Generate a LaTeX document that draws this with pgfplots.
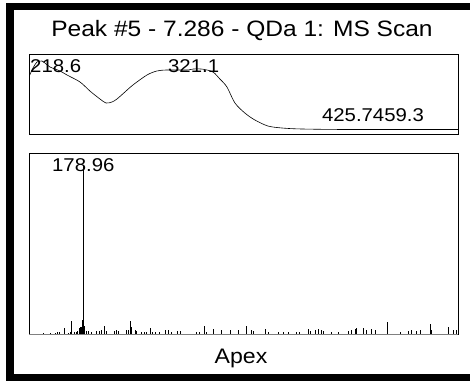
\documentclass[border=0pt]{standalone}
\usepackage{pgfplots}
\pgfplotsset{compat=1.18}
\usepackage{fontspec}
\setmainfont{Liberation Sans}[FakeStretch=1.1]
\begin{document}
\begin{tikzpicture}
\path[use as bounding box] (0pt,0pt) rectangle (470pt,382pt);
\fill[white] (0pt,0pt) rectangle (470pt,382pt);
\draw[line width=7.5pt] (10pt,4.5pt) rectangle (480pt,375.5pt);
% title
\node[anchor=base, font=\fontsize{22.3}{26}\selectfont, inner sep=0pt] at (242pt,345pt) {Peak \#5 - 7.286 - QDa 1: MS Scan};
% UV spectrum panel
\begin{axis}[at={(29.3pt,248pt)}, anchor=south west, scale only axis,
  width=428.7pt, height=80pt, xmin=210, xmax=500, ymin=0, ymax=1,
  xtick=\empty, ytick=\empty, clip=false,
  axis line style={black, line width=0.8pt}]
\addplot[black, line width=0.6pt, smooth, tension=0.5] coordinates {
(210.0,0.725) (212.5,0.825) (215.2,0.90) (218.6,0.912) (220.6,0.8875)
(224.0,0.8375) (230.8,0.7875) (235.5,0.7375) (244.3,0.65) (251.0,0.5375)
(257.8,0.4375) (261.9,0.3875) (265.9,0.40) (269.3,0.4375) (274.7,0.525)
(280.1,0.6125) (289.6,0.7375) (296.3,0.7875) (303.1,0.80) (316.6,0.80)
(321.1,0.8125) (327.4,0.81) (334.2,0.775) (338.9,0.6875) (343.7,0.5875)
(349.1,0.3875) (355.8,0.2625) (362.6,0.175) (371.4,0.10) (380.9,0.075)
(394.4,0.0625) (426.9,0.056) (500,0.056)};
\node[anchor=base west, inner sep=0pt, font=\fontsize{18.5}{22}\selectfont] at (axis cs:210.5,0.769) {218.6};
\node[anchor=base west, inner sep=0pt, font=\fontsize{18.5}{22}\selectfont] at (axis cs:303.8,0.766) {321.1};
\node[anchor=base west, inner sep=0pt, font=\fontsize{18.5}{22}\selectfont] at (axis cs:407.9,0.15) {425.7459.3};
\end{axis}
% MS panel
\begin{axis}[at={(29.3pt,47.7pt)}, anchor=south west, scale only axis,
  width=428.7pt, height=180.6pt, xmin=100, xmax=727, ymin=0, ymax=106.5,
  xtick=\empty, ytick=\empty, clip=false,
  axis line style={black, line width=0.8pt}]
\addplot[ycomb, black, line width=0.7pt, mark=none] coordinates {
(120.5,0.6) (130.3,0.6) (137.6,0.6) (140.9,1.2) (143.9,1.2) (151.2,4.0)
(157.0,0.9) (160.5,1.6) (162.0,7.9) (165.4,1.2) (168.3,1.2) (170.8,1.8)
(173.1,4.0) (174.6,4.1) (176.0,4.1) (177.5,8.3) (178.96,100) (180.4,5.1)
(182.9,2.2) (186.3,2.2) (191.2,1.2) (198.6,2.0) (201.9,2.0) (205.9,2.6)
(209.7,5.1) (212.2,2.0) (223.8,2.2) (227.8,2.4) (230.1,1.8) (241.4,2.6)
(244.8,2.4) (247.2,7.9) (249.7,4.5) (254.6,2.6) (257.0,2.2) (264.4,1.6)
(267.7,1.6) (271.7,1.6) (276.5,3.6) (280.4,1.6) (283.8,1.6) (290.1,1.2)
(299.4,2.6) (303.2,2.4) (308.2,1.6) (316.4,2.0) (320.4,2.0) (343.7,1.2)
(348.6,1.2) (355.5,5.1) (359.4,1.2) (369.0,3.0) (381.3,2.6) (393.5,2.6)
(405.6,2.6) (417.9,5.1) (425.2,2.6) (427.5,2.0) (444.6,3.2) (449.5,1.6)
(464.1,1.2) (471.4,1.2) (478.7,1.2) (491.0,1.2) (494.4,1.6) (508.0,3.0)
(510.4,1.8) (517.7,2.6) (522.6,3.0) (526.5,2.4) (529.9,1.8) (542.2,1.6)
(551.8,1.2) (566.4,1.8) (571.4,2.6) (576.2,3.0) (578.7,3.6) (588.4,3.6)
(593.3,2.6) (600.7,3.0) (605.5,2.6) (624.1,7.1) (642.0,1.6) (654.2,2.0)
(659.2,2.4) (666.5,2.0) (671.4,2.6) (685.9,6.1) (688.4,2.4) (712.7,4.1)
(720.0,2.6) (724.9,2.6)};
\draw[gray, line width=1.2pt] (axis cs:100,0) -- (axis cs:727,0);
\node[anchor=base, inner sep=0pt, font=\fontsize{18.5}{22}\selectfont] at (axis cs:178.96,95.9) {178.96};
\end{axis}
\node[anchor=base, font=\fontsize{21}{25}\selectfont, inner sep=0pt] at (241pt,19pt) {Apex};
\end{tikzpicture}
\end{document}
